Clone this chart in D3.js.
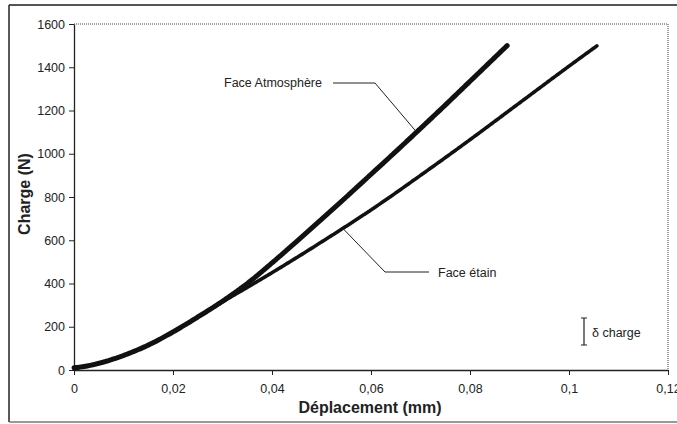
<!DOCTYPE html>
<html><head><meta charset="utf-8">
<script src="https://cdn.jsdelivr.net/npm/d3@7"></script>
<style>
html,body{margin:0;padding:0;background:#fff;}
svg{display:block;font-family:"Liberation Sans",Arial,sans-serif;}
</style></head>
<body>
<svg id="chart" width="677" height="424"></svg>
<script>
// Data
const xAtmosphere = [0, 0.002, 0.004, 0.006, 0.008, 0.01, 0.012, 0.015, 0.02, 0.025, 0.03, 0.035, 0.04, 0.045, 0.05, 0.055, 0.06, 0.065, 0.07, 0.075, 0.08, 0.0875];
const yAtmosphere = [10, 16, 25, 37, 51, 67, 85, 115, 176, 245, 318, 400, 495, 595, 697, 800, 905, 1010, 1117, 1225, 1335, 1500];
const xEtain = [0, 0.002, 0.004, 0.006, 0.008, 0.01, 0.012, 0.015, 0.02, 0.025, 0.03, 0.035, 0.04, 0.045, 0.05, 0.055, 0.06, 0.07, 0.08, 0.09, 0.1, 0.1057];
const yEtain = [10, 16, 25, 37, 51, 67, 85, 115, 176, 245, 315, 382, 450, 520, 592, 665, 740, 900, 1065, 1235, 1405, 1500];
const xTicks = [0, 0.02, 0.04, 0.06, 0.08, 0.1, 0.12];
const xTickLabels = ["0", "0,02", "0,04", "0,06", "0,08", "0,1", "0,12"];
const yTicks = [0, 200, 400, 600, 800, 1000, 1200, 1400, 1600];
const xTitle = "Déplacement (mm)";
const yTitle = "Charge (N)";
const labelAtm = "Face Atmosphère";
const labelEtain = "Face étain";
const deltaLabel = "δ charge";

const svg = d3.select("#chart");
const L = 74, R = 668, T = 24, B = 370;
const x = d3.scaleLinear().domain([0, 0.12]).range([L, R]);
const y = d3.scaleLinear().domain([0, 1600]).range([B, T]);

// outer frame
svg.append("line").attr("x1", 9).attr("x2", 677).attr("y1", 5).attr("y2", 5).attr("stroke", "#555").attr("stroke-width", 2);
svg.append("line").attr("x1", 9).attr("x2", 9).attr("y1", 5).attr("y2", 422).attr("stroke", "#222").attr("stroke-width", 1.5);
svg.append("line").attr("x1", 9).attr("x2", 677).attr("y1", 422).attr("y2", 422).attr("stroke", "#777").attr("stroke-width", 1.5);

// plot area dotted border top/right
svg.append("path").attr("d", `M${L},${T}H${R}V${B}`).attr("fill", "none")
  .attr("stroke", "#444").attr("stroke-width", 1).attr("stroke-dasharray", "1,1");

// axes
const xAxis = d3.axisBottom(x).tickValues(xTicks).tickFormat((d, i) => xTickLabels[i]).tickSize(5).tickSizeOuter(0);
const gx = svg.append("g").attr("transform", `translate(0,${B})`).call(xAxis);
gx.select(".domain").attr("stroke", "#222").attr("stroke-width", 1.3);
gx.selectAll(".tick line").attr("stroke", "#222");
gx.selectAll("text").attr("font-size", 12.5).attr("fill", "#222").attr("dy", "1.2em")
  .attr("font-family", "Liberation Sans, Arial, sans-serif");

const yAxis = d3.axisLeft(y).tickValues(yTicks).tickFormat(d3.format("d")).tickSize(5).tickSizeOuter(0);
const gy = svg.append("g").attr("transform", `translate(${L},0)`).call(yAxis);
gy.select(".domain").attr("stroke", "#222").attr("stroke-width", 1.3);
gy.selectAll(".tick line").attr("stroke", "#222");
gy.selectAll("text").attr("font-size", 12.5).attr("fill", "#222").attr("x", -9)
  .attr("font-family", "Liberation Sans, Arial, sans-serif");

// titles
svg.append("text").attr("x", 370).attr("y", 413).attr("text-anchor", "middle")
  .attr("font-size", 16).attr("font-weight", "bold").attr("fill", "#222").text(xTitle);
svg.append("text").attr("transform", "translate(30,194) rotate(-90)").attr("text-anchor", "middle")
  .attr("font-size", 16).attr("font-weight", "bold").attr("fill", "#222").text(yTitle);

// curves
const line = d3.line().x(d => x(d[0])).y(d => y(d[1])).curve(d3.curveMonotoneX);
const atm = xAtmosphere.map((v, i) => [v, yAtmosphere[i]]);
const et = xEtain.map((v, i) => [v, yEtain[i]]);
svg.append("path").attr("d", line(et)).attr("fill", "none").attr("stroke", "#111")
  .attr("stroke-width", 3.6).attr("stroke-linecap", "round").attr("stroke-dasharray", "2.2,0.5");
svg.append("path").attr("d", line(atm)).attr("fill", "none").attr("stroke", "#111")
  .attr("stroke-width", 5).attr("stroke-linecap", "round").attr("stroke-dasharray", "2.5,0.5");

// annotations
svg.append("text").attr("x", 224).attr("y", 87).attr("font-size", 12.5).attr("fill", "#222").text(labelAtm);
svg.append("path").attr("d", `M333,83H375L${x(0.069)},${y(1106)}`).attr("fill", "none").attr("stroke", "#222").attr("stroke-width", 1);
svg.append("text").attr("x", 438).attr("y", 277).attr("font-size", 12.5).attr("fill", "#222").text(labelEtain);
svg.append("path").attr("d", `M429,272H385L${x(0.0543)},${y(655)}`).attr("fill", "none").attr("stroke", "#222").attr("stroke-width", 1);

// delta charge bar
svg.append("path").attr("d", "M584,318V345M581,318H587M581,345H587").attr("stroke", "#222").attr("stroke-width", 1.2).attr("fill", "none");
svg.append("text").attr("x", 592).attr("y", 337).attr("font-size", 12.5).attr("fill", "#222").text(deltaLabel);
</script>
</body></html>
